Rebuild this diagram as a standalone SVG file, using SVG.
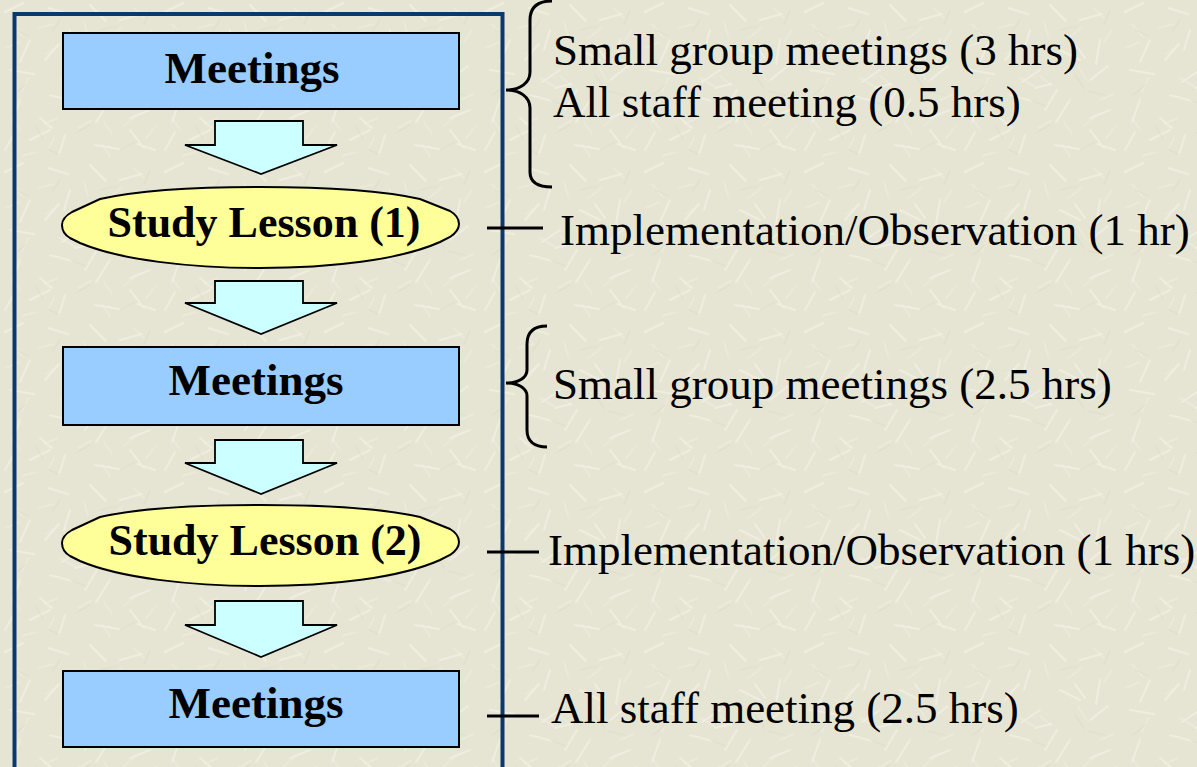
<svg xmlns="http://www.w3.org/2000/svg" width="1197" height="767" viewBox="0 0 1197 767">
  <defs>
    <!-- scratched paper background tile -->
    <pattern id="paper" width="160" height="160" patternUnits="userSpaceOnUse">
      <rect width="160" height="160" fill="#e6e5d4"/>
      <g stroke="#f2f1e6" stroke-width="2" stroke-linecap="round" opacity="0.7">
        <path d="M5 12 l18 -9 M30 40 l-10 22 M48 8 l20 6 M70 30 l-6 20 M90 5 l16 16 M120 20 l22 -6 M140 40 l-4 24 M10 70 l24 4 M45 60 l14 -16 M80 70 l-18 12 M100 50 l20 10 M130 80 l18 -14 M20 100 l-8 22 M50 95 l22 6 M85 110 l12 -20 M110 100 l-14 22 M150 110 l-20 8 M30 140 l20 -10 M65 135 l-6 20 M95 145 l24 4 M130 130 l14 18 M155 150 l-18 -6 M5 150 l10 -18 M75 88 l16 -4 M125 58 l-10 -14 M40 118 l12 10"/>
      </g>
      <g stroke="#efeee2" stroke-width="1.5" stroke-linecap="round" opacity="0.6">
        <path d="M12 24 l10 12 M38 28 l16 -4 M58 46 l-12 8 M84 22 l4 14 M108 38 l14 -10 M134 8 l10 10 M152 30 l-8 12 M6 48 l14 -6 M28 78 l-6 14 M60 78 l14 8 M92 86 l-12 -10 M118 66 l8 14 M140 100 l14 -6 M12 118 l8 12 M58 118 l-14 6 M78 128 l14 -8 M104 122 l8 12 M136 116 l-12 10 M22 156 l14 -4 M48 150 l6 -12 M110 156 l-8 -12 M146 138 l10 -12"/>
      </g>
      <g stroke="#d8d6c3" stroke-width="1.2" stroke-linecap="round" opacity="0.5">
        <path d="M15 30 l14 6 M60 20 l-8 12 M100 30 l18 -4 M150 10 l-6 14 M25 85 l-12 10 M70 100 l16 6 M115 75 l10 14 M145 95 l-16 -4 M35 125 l8 14 M90 125 l-14 8 M120 150 l16 -8 M60 155 l-12 -6"/>
      </g>
    </pattern>
    <style>
      .box { fill: #99ccff; stroke: #000; stroke-width: 2; }
      .lesson { fill: #ffff99; stroke: #000; stroke-width: 2; }
      .flow { fill: #ccffff; stroke: #000; stroke-width: 1.8; stroke-linejoin: miter; }
      .note { fill: none; stroke: #000; stroke-width: 3; }
      .title { font-family: "Liberation Serif", "Times New Roman", serif; font-weight: bold; font-size: 45px; fill: #000; text-anchor: middle; }
      .lbl { font-family: "Liberation Serif", "Times New Roman", serif; font-weight: bold; font-size: 44px; fill: #000; text-anchor: middle; }
      .txt { font-family: "Liberation Serif", "Times New Roman", serif; font-size: 45px; fill: #000; }
    </style>
    <!-- lens-shaped step outline with small nubs at the tips -->
    <path id="lens" d="M62,225 C62,220 65,216 72,212 L100,199 C140,190 200,187 260,187 C320,187 380,190 420,199 L450,211 C457,215 459,220 459,224 C459,229 456,233 450,237 L440,242 C400,260 330,268 260,268 C190,268 120,260 80,243 L70,238 C65,235 62,230 62,225 Z"/>
  </defs>

  <rect width="1197" height="767" fill="url(#paper)"/>

  <!-- process frame -->
  <rect id="frame" x="14.5" y="14" width="488" height="790" fill="none" stroke="#0a3a6c" stroke-width="4"/>

  <!-- block arrows between steps -->
  <g id="connectors">
    <polygon class="flow" points="215,121 303,121 303,145 337,145 261,174 185,145 215,145"/>
    <polygon class="flow" points="215,281 303,281 303,303 337,303 261,334 185,303 215,303"/>
    <polygon class="flow" points="215,440 303,440 303,463 337,463 261,494 185,463 215,463"/>
    <polygon class="flow" points="215,601 303,601 303,625 337,625 261,657 185,625 215,625"/>
  </g>

  <g id="meetings-1">
    <rect class="box" x="63" y="33" width="396" height="76"/>
    <text class="title" x="252" y="83">Meetings</text>
  </g>

  <g id="study-lesson-1">
    <use href="#lens" class="lesson"/>
    <text class="lbl" x="264" y="237">Study Lesson (1)</text>
  </g>

  <g id="meetings-2">
    <rect class="box" x="63" y="347" width="396" height="78"/>
    <text class="title" x="256" y="395">Meetings</text>
  </g>

  <g id="study-lesson-2">
    <use href="#lens" class="lesson" transform="translate(0,318)"/>
    <text class="lbl" x="265" y="555">Study Lesson (2)</text>
  </g>

  <g id="meetings-3">
    <rect class="box" x="63" y="671" width="396" height="76"/>
    <text class="title" x="256" y="718">Meetings</text>
  </g>

  <!-- time annotations -->
  <g id="annotations">
    <path class="note" d="M552,1 C538,1 530,7 530,20 L530,72 C530,83 520,90 506,90 C520,90 530,97 530,108 L530,172 C530,182 538,187 552,187"/>
    <path class="note" d="M547,326 C534,326 527,332 527,344 L527,370 C527,378 518,383 506,383 C518,383 527,388 527,396 L527,430 C527,441 534,447 547,447"/>
    <line class="note" x1="487" y1="228" x2="543" y2="228"/>
    <line class="note" x1="487" y1="552" x2="539" y2="552"/>
    <line class="note" x1="487" y1="716" x2="539" y2="716"/>
    <text class="txt" x="553" y="65">Small group meetings (3 hrs)</text>
    <text class="txt" x="553" y="117">All staff meeting (0.5 hrs)</text>
    <text class="txt" x="560" y="245">Implementation/Observation (1 hr)</text>
    <text class="txt" x="553" y="399">Small group meetings (2.5 hrs)</text>
    <text class="txt" x="548" y="565">Implementation/Observation (1 hrs)</text>
    <text class="txt" x="551" y="723">All staff meeting (2.5 hrs)</text>
  </g>
</svg>
